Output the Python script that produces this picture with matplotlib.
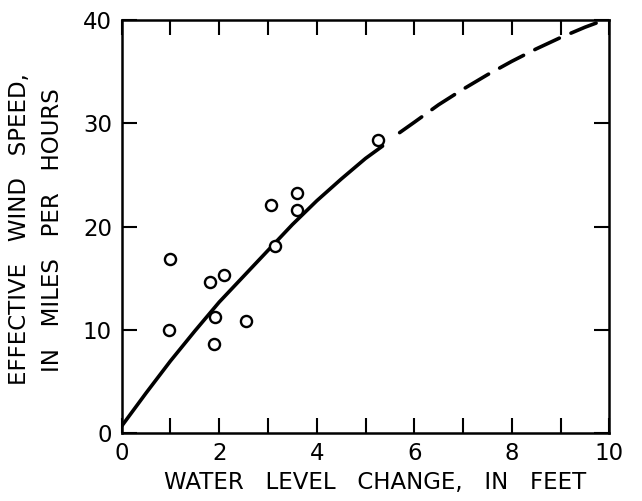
import matplotlib
matplotlib.use("Agg")
import matplotlib.pyplot as plt

# Observed points
obs_x = [0.99, 0.97, 1.81, 2.10, 1.92, 1.89, 2.54, 3.07, 3.15, 3.60, 3.60, 5.26]
obs_y = [16.9, 10.0, 14.6, 15.3, 11.3, 8.65, 10.9, 22.1, 18.1, 23.3, 21.6, 28.4]

# Solid fitted curve
solid_x = [0.0, 0.5, 1.0, 1.5, 2.0, 2.5, 3.0, 3.5, 4.0, 4.5, 5.0, 5.35]
solid_y = [0.7, 3.9, 7.0, 9.9, 12.7, 15.2, 17.7, 20.2, 22.5, 24.6, 26.6, 27.8]

# Dashed extrapolation
dash_x = [5.7, 6.0, 6.5, 7.0, 7.5, 8.0, 8.5, 9.0, 9.5, 9.9]
dash_y = [29.1, 30.1, 31.8, 33.3, 34.7, 36.0, 37.2, 38.3, 39.3, 40.0]

x_major = [0, 2, 4, 6, 8, 10]
x_minor = [1, 3, 5, 7, 9]
y_major = [0, 10, 20, 30, 40]

xlabel = "WATER   LEVEL   CHANGE,   IN   FEET"
ylabel1 = "EFFECTIVE   WIND   SPEED,"
ylabel2 = "IN   MILES   PER   HOURS"

W, H = 642, 501
fig = plt.figure(figsize=(W / 100, H / 100), dpi=100)
ax = fig.add_axes([121.7 / W, 1 - 433.3 / H, (609.3 - 121.7) / W, (433.3 - 20) / H])

ax.plot(solid_x, solid_y, color="black", lw=2.6, solid_capstyle="round", zorder=3)
ax.plot(dash_x, dash_y, color="black", lw=2.6, linestyle=(0, (7.5, 3.5)),
        dash_capstyle="round", zorder=3)
ax.plot(obs_x, obs_y, linestyle="none", marker="o", markersize=8,
        markerfacecolor="white", markeredgecolor="black", markeredgewidth=1.7, zorder=4)

ax.set_xlim(0, 10)
ax.set_ylim(0, 40)
ax.set_xticks(x_major)
ax.set_xticks(x_minor, minor=True)
ax.set_yticks(y_major)
ax.set_xticklabels([str(v) for v in x_major])
ax.set_yticklabels([str(v) for v in y_major])

for s in ax.spines.values():
    s.set_linewidth(1.8)

ax.tick_params(axis="x", which="both", direction="in", length=11, width=1.5,
               top=True, labelsize=16.5, pad=6)
ax.tick_params(axis="y", which="major", direction="in", length=11, width=1.5,
               right=True, labelsize=16.5, pad=7)

fig.text(375 / W, 1 - 482 / H, xlabel, ha="center", va="center", fontsize=16.5)
fig.text(20 / W, 1 - 229 / H, ylabel1, ha="center", va="center",
         rotation=90, fontsize=16.5)
fig.text(53 / W, 1 - 230 / H, ylabel2, ha="center", va="center",
         rotation=90, fontsize=16.5)

fig.savefig("out.png", dpi=100, facecolor="white")
